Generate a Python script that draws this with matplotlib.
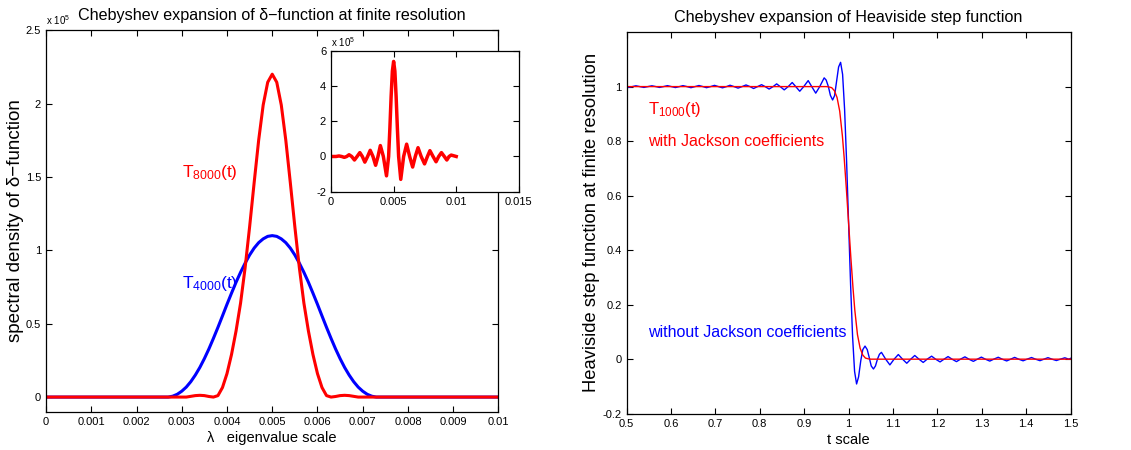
import matplotlib
matplotlib.use('Agg')
import matplotlib.pyplot as plt
from matplotlib.ticker import FormatStrFormatter

plt.rcParams['font.family'] = ['Liberation Sans', 'DejaVu Sans']
plt.rcParams['mathtext.fontset'] = 'custom'
plt.rcParams['mathtext.rm'] = 'Liberation Sans'
plt.rcParams['mathtext.it'] = 'Liberation Sans:italic'

# ---- left panel: delta function (values in units of 1e5) ----
lam = [0.0, 0.0027, 0.0028, 0.0029, 0.0030, 0.0031, 0.0032, 0.0033, 0.0034, 0.0035, 0.0036,
       0.0037, 0.0038, 0.0039, 0.0040, 0.0041, 0.0042, 0.0043, 0.0044, 0.0045, 0.0046,
       0.0047, 0.0048, 0.0049, 0.0050, 0.0051, 0.0052, 0.0053, 0.0054, 0.0055, 0.0056,
       0.0057, 0.0058, 0.0059, 0.0060, 0.0061, 0.0062, 0.0063, 0.0064, 0.0065, 0.0066,
       0.0067, 0.0068, 0.0069, 0.0070, 0.0071, 0.0072, 0.0073, 0.01]
dens_4000 = [0.0, 0.0, 0.006, 0.019, 0.040, 0.068, 0.105, 0.150, 0.202, 0.262, 0.328,
             0.400, 0.475, 0.553, 0.632, 0.708, 0.782, 0.850, 0.912, 0.968, 1.015,
             1.052, 1.078, 1.095, 1.100, 1.095, 1.078, 1.052, 1.015, 0.968, 0.912,
             0.850, 0.782, 0.708, 0.632, 0.553, 0.475, 0.400, 0.328, 0.262, 0.202,
             0.150, 0.105, 0.068, 0.040, 0.019, 0.006, 0.0, 0.0]
dens_8000 = [0.0, 0.0, 0.0, 0.0, 0.0, 0.0, 0.005, 0.010, 0.012, 0.010, 0.004,
             0.0, 0.010, 0.065, 0.16, 0.29, 0.45, 0.64, 0.88, 1.16, 1.46,
             1.75, 1.99, 2.145, 2.2, 2.145, 1.99, 1.75, 1.46, 1.16, 0.88,
             0.64, 0.45, 0.29, 0.16, 0.065, 0.010, 0.0, 0.004, 0.010, 0.012,
             0.010, 0.005, 0.0, 0.0, 0.0, 0.0, 0.0, 0.0]

# inset: expansion without kernel
inset_lam = [0.0, 0.0004, 0.00063, 0.00085, 0.00106, 0.00125, 0.00144, 0.00165, 0.00187,
             0.00208, 0.0023, 0.0025, 0.0027, 0.00292, 0.00313, 0.00335, 0.00356, 0.00375,
             0.00394, 0.00418, 0.00443, 0.0046, 0.0047, 0.0048, 0.0049, 0.005, 0.0051,
             0.0052, 0.0053, 0.0054, 0.00557, 0.0058, 0.00604, 0.00628, 0.00652, 0.00673,
             0.00695, 0.0072, 0.00747, 0.0077, 0.0079, 0.00815, 0.00839, 0.0086, 0.00882,
             0.00905, 0.00925, 0.00943, 0.0096, 0.01]
inset_val = [0.0, 0.0, 0.03, 0.0, -0.05, 0.0, 0.1, 0.0, -0.2,
             0.0, 0.22, 0.0, -0.32, 0.0, 0.35, 0.0, -0.5, 0.0,
             0.62, 0.0, -1.1, 0.0, 1.6, 3.4, 4.85, 5.4, 4.85,
             3.4, 1.6, 0.0, -1.3, 0.0, 0.7, 0.0, -0.6, 0.0,
             0.5, 0.0, -0.42, 0.0, 0.33, 0.0, -0.3, 0.0, 0.22,
             0.0, -0.2, 0.0, 0.08, 0.0]

# ---- right panel: Heaviside step ----
t_plain = [0.500, 0.504, 0.513, 0.521, 0.530, 0.539, 0.548, 0.557, 0.566, 0.574, 0.583,
           0.592, 0.601, 0.610, 0.619, 0.627, 0.636, 0.645, 0.654, 0.663, 0.672, 0.680,
           0.689, 0.698, 0.707, 0.716, 0.725, 0.733, 0.742, 0.751, 0.760, 0.769, 0.778,
           0.786, 0.795, 0.804, 0.812, 0.821, 0.830, 0.838, 0.846, 0.855, 0.864, 0.873,
           0.881, 0.890, 0.899, 0.909, 0.917, 0.926, 0.935, 0.945, 0.9495, 0.9545, 0.959,
           0.964, 0.9685, 0.973, 0.9775, 0.982, 0.9865, 0.991, 0.9955, 1.000, 1.0045,
           1.009, 1.0135, 1.018, 1.0225, 1.0275, 1.032, 1.037, 1.042, 1.0465, 1.051,
           1.056, 1.0605, 1.065, 1.0695, 1.074, 1.0835, 1.093, 1.1025, 1.112, 1.1215,
           1.131, 1.140, 1.149, 1.1585, 1.168, 1.177, 1.187, 1.196, 1.206, 1.215, 1.224,
           1.233, 1.243, 1.252, 1.262, 1.271, 1.281, 1.290, 1.299, 1.308, 1.318, 1.327,
           1.337, 1.346, 1.356, 1.365, 1.374, 1.383, 1.393, 1.402, 1.412, 1.421, 1.431,
           1.440, 1.449, 1.458, 1.468, 1.477, 1.487, 1.496, 1.500]
h_plain = [1.000, 0.997, 1.000, 1.003, 1.000, 0.997, 1.000, 1.003, 1.000, 0.997, 1.000,
           1.0035, 1.000, 0.9965, 1.000, 1.0035, 1.000, 0.996, 1.000, 1.004, 1.000, 0.996,
           1.000, 1.0045, 1.000, 0.9955, 1.000, 1.005, 1.000, 0.9945, 1.000, 1.006, 1.000,
           0.993, 1.000, 1.007, 1.000, 0.991, 1.000, 1.010, 1.000, 0.988, 1.000, 1.015,
           1.000, 0.983, 1.000, 1.022, 1.000, 0.976, 1.000, 1.032, 1.024, 1.000, 0.968,
           0.951, 0.967, 1.020, 1.072, 1.089, 1.045, 0.917, 0.726, 0.500, 0.274,
           0.083, -0.045, -0.091, -0.065, -0.005, 0.035, 0.048, 0.035, 0.006, -0.025,
           -0.036, -0.025, 0.0, 0.018, 0.025, 0.0, -0.021, 0.0, 0.017, 0.0,
           -0.015, 0.0, 0.0135, 0.0, -0.012, 0.0, 0.011, 0.0, -0.010, 0.0, 0.0095,
           0.0, -0.009, 0.0, 0.0085, 0.0, -0.008, 0.0, 0.0075, 0.0, -0.007, 0.0,
           0.007, 0.0, -0.0065, 0.0, 0.0065, 0.0, -0.006, 0.0, 0.006, 0.0, -0.0055,
           0.0, 0.0055, 0.0, -0.005, 0.0, 0.005, 0.0, 0.003]

t_jackson = [0.5, 0.95, 0.955, 0.962, 0.968, 0.974, 0.980, 0.986, 0.990, 0.995, 1.000,
             1.005, 1.010, 1.014, 1.020, 1.026, 1.032, 1.038, 1.045, 1.05, 1.5]
h_jackson = [1.0, 1.0, 0.999, 0.996, 0.985, 0.960, 0.91, 0.82, 0.74, 0.625, 0.5,
             0.375, 0.26, 0.18, 0.09, 0.04, 0.015, 0.004, 0.001, 0.0, 0.0]


def style_axes(ax, fs=8):
    ax.tick_params(direction='in', top=True, right=True, length=4, width=0.8, labelsize=fs)
    for s in ax.spines.values():
        s.set_linewidth(0.9)


fig = plt.figure(figsize=(11.31, 4.5), dpi=100)

# left
ax1 = fig.add_axes([0.0407, 0.085, 0.400, 0.848])
ax1.plot(lam, dens_4000, color='blue', lw=2.2)
ax1.plot(lam, dens_8000, color='red', lw=2.2)
ax1.set_xlim(0, 0.01)
ax1.set_ylim(-0.1, 2.5)
ax1.set_xticks([0, 0.001, 0.002, 0.003, 0.004, 0.005, 0.006, 0.007, 0.008, 0.009, 0.01])
ax1.set_yticks([0, 0.5, 1, 1.5, 2, 2.5])
ax1.xaxis.set_major_formatter(FormatStrFormatter('%g'))
ax1.yaxis.set_major_formatter(FormatStrFormatter('%g'))
style_axes(ax1)
ax1.text(0, 1.008, r'x 10$^{5}$', transform=ax1.transAxes, fontsize=7, va='bottom')
ax1.set_title('Chebyshev expansion of δ\u2212function at finite resolution', fontsize=11.6, pad=7)
ax1.set_xlabel('λ   eigenvalue scale', fontsize=10.5, labelpad=3)
ax1.set_ylabel('spectral density of δ\u2212function', fontsize=13.5, labelpad=1)
ax1.text(0.0030, 1.5, r'T$_{\mathrm{8000}}$(t)', color='red', fontsize=12.5)
ax1.text(0.0030, 0.74, r'T$_{\mathrm{4000}}$(t)', color='blue', fontsize=12.5)

# inset
axi = fig.add_axes([0.2927, 0.574, 0.166, 0.313])
axi.plot(inset_lam, inset_val, color='red', lw=2.5)
axi.set_xlim(0, 0.015)
axi.set_ylim(-2, 6)
axi.set_xticks([0, 0.005, 0.01, 0.015])
axi.set_yticks([-2, 0, 2, 4, 6])
axi.xaxis.set_major_formatter(FormatStrFormatter('%g'))
axi.yaxis.set_major_formatter(FormatStrFormatter('%g'))
style_axes(axi)
axi.text(0, 1.015, r'x 10$^{5}$', transform=axi.transAxes, fontsize=7, va='bottom')

# right
ax2 = fig.add_axes([0.554, 0.0807, 0.3926, 0.848])
ax2.plot(t_plain, h_plain, color='blue', lw=1.0)
ax2.plot(t_jackson, h_jackson, color='red', lw=1.0)
ax2.set_xlim(0.5, 1.5)
ax2.set_ylim(-0.2, 1.2)
ax2.set_xticks([0.5, 0.6, 0.7, 0.8, 0.9, 1.0, 1.1, 1.2, 1.3, 1.4, 1.5])
ax2.set_yticks([-0.2, 0, 0.2, 0.4, 0.6, 0.8, 1.0])
ax2.xaxis.set_major_formatter(FormatStrFormatter('%g'))
ax2.yaxis.set_major_formatter(FormatStrFormatter('%g'))
style_axes(ax2)
ax2.set_title('Chebyshev expansion of Heaviside step function', fontsize=11.6, pad=7)
ax2.set_xlabel('t scale', fontsize=10.5, labelpad=3)
ax2.set_ylabel('Heaviside step function at finite resolution', fontsize=13.2, labelpad=2)
ax2.text(0.549, 0.90, r'T$_{\mathrm{1000}}$(t)', color='red', fontsize=12)
ax2.text(0.549, 0.797, 'with Jackson coefficients', color='red', fontsize=11.5, va='center')
ax2.text(0.549, 0.097, 'without Jackson coefficients', color='blue', fontsize=11.5, va='center')

fig.savefig('out.png', dpi=100)
